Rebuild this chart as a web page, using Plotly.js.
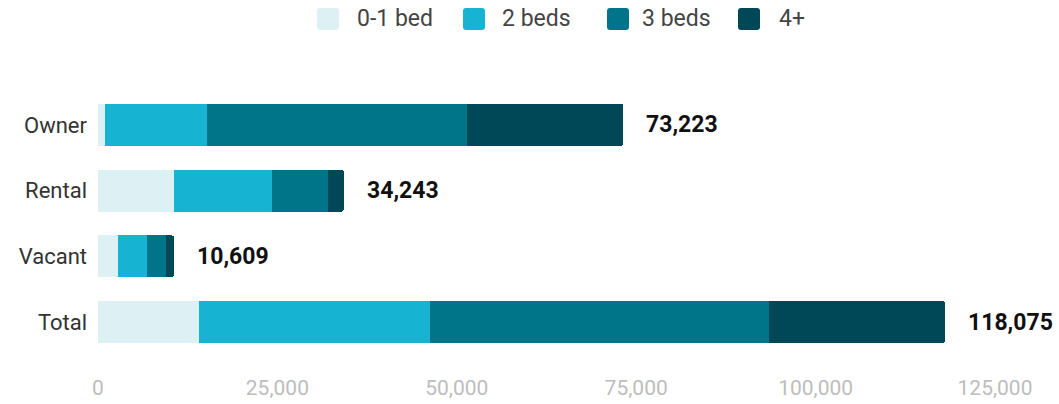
<!DOCTYPE html>
<html>
<head>
<meta charset="utf-8">
<script src="https://cdn.plot.ly/plotly-3.0.1.min.js"></script>
<style>html,body{margin:0;padding:0;background:#fff;}#chart{width:1059px;height:404px;}</style>
</head>
<body>
<div id="chart"></div>
<script>
const categories = ["Owner", "Rental", "Vacant", "Total"];
const seriesNames = ["0-1 bed", "2 beds", "3 beds", "4+"];
const bed01 = [940, 10540, 2758, 14096];
const beds2 = [14180, 13774, 4101, 32237];
const beds3 = [36350, 7783, 2659, 47130];
const beds4 = [21753, 2146, 1091, 24612];
const totals = [73223, 34243, 10609, 118075];
const tickVals = [0, 25000, 50000, 75000, 100000, 125000];
const tickText = ["0", "25,000", "50,000", "75,000", "100,000", "125,000"];
const colors = ["#ddf1f4", "#16b4d2", "#007489", "#004858"];

// plot area geometry (pixels) used for the hand-drawn legend
const W = 1059, H = 404;
const M = {l: 98, r: 64, t: 92, b: 49};
const pw = W - M.l - M.r, ph = H - M.t - M.b;
const px = v => (v - M.l) / pw;
const py = v => (H - M.b - v) / ph;
const legendSwatchLeft = [317, 463, 607, 738];
const legendTextLeft = [355, 500, 640, 777];

const seriesData = [bed01, beds2, beds3, beds4];
const traces = seriesData.map((vals, i) => ({
  type: "bar",
  orientation: "h",
  name: seriesNames[i],
  y: categories,
  x: vals,
  marker: {color: colors[i], line: {width: 0}},
  hoverinfo: "skip"
}));

const annotations = categories.map((c, i) => ({
  x: totals[i], y: c, xref: "x", yref: "y",
  text: "<b>" + totals[i].toLocaleString("en-US") + "</b>",
  showarrow: false, xanchor: "left", xshift: 21,
  font: {family: "Roboto", size: 23, color: "#111"}
}));

const shapes = [];
seriesNames.forEach((n, i) => {
  const x0 = legendSwatchLeft[i], x1 = x0 + 22, y0 = 8, y1 = 30, r = 3;
  const path = `M ${x0 + r} ${y0} L ${x1 - r} ${y0} Q ${x1} ${y0} ${x1} ${y0 + r} L ${x1} ${y1 - r} Q ${x1} ${y1} ${x1 - r} ${y1} L ${x0 + r} ${y1} Q ${x0} ${y1} ${x0} ${y1 - r} L ${x0} ${y0 + r} Q ${x0} ${y0} ${x0 + r} ${y0} Z`;
  // convert pixel path to paper coords
  const conv = path.replace(/(-?\d+(\.\d+)?) (-?\d+(\.\d+)?)/g, (m, a, _b, c) => `${px(+a)} ${py(+c)}`);
  shapes.push({type: "path", xref: "paper", yref: "paper", path: conv,
    fillcolor: colors[i], line: {width: 0}});
  annotations.push({
    xref: "paper", yref: "paper", x: px(legendTextLeft[i]), y: py(19),
    text: n, showarrow: false, xanchor: "left", yanchor: "middle",
    font: {family: "Roboto", size: 23, color: "#444"}
  });
});

const layout = {
  width: W, height: H,
  margin: M,
  paper_bgcolor: "#fff", plot_bgcolor: "#fff",
  barmode: "stack",
  bargap: 0.36,
  barcornerradius: 3,
  font: {family: "Roboto", size: 21, color: "#333"},
  showlegend: false,
  xaxis: {
    range: [0, 125000], tickvals: tickVals, ticktext: tickText,
    showgrid: false, zeroline: false, showline: false,
    tickfont: {family: "Roboto", size: 21, color: "#bdbdbd"},
    ticklabelstandoff: 18, fixedrange: true
  },
  yaxis: {
    categoryorder: "array", categoryarray: categories,
    autorange: "reversed", showgrid: false, zeroline: false, showline: false,
    tickfont: {family: "Roboto", size: 22, color: "#333"},
    ticklabelstandoff: 10, fixedrange: true
  },
  shapes: shapes,
  annotations: annotations
};

Plotly.newPlot("chart", traces, layout, {displayModeBar: false, staticPlot: true});
</script>
</body>
</html>
